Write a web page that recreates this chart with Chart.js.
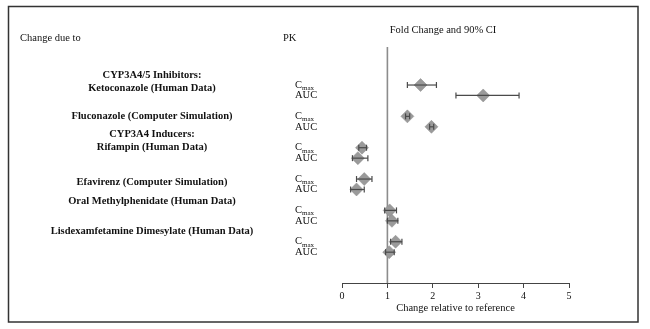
<!DOCTYPE html>
<html>
<head>
<meta charset="utf-8">
<script src="https://cdn.jsdelivr.net/npm/chart.js@4"></script>
<style>
  html, body { margin: 0; padding: 0; background: #fff; }
  #wrap { width: 650px; height: 329px; position: relative; }
</style>
</head>
<body>
<div id="wrap"><canvas id="c"></canvas></div>
<script>
// ---- data ----
const groupLabels = [
  ['CYP3A4/5 Inhibitors:', 'Ketoconazole (Human Data)'],
  ['Fluconazole (Computer Simulation)'],
  ['CYP3A4 Inducers:', 'Rifampin (Human Data)'],
  ['Efavirenz (Computer Simulation)'],
  ['Oral Methylphenidate (Human Data)'],
  ['Lisdexamfetamine Dimesylate (Human Data)']
];
const pkParams = ['Cmax', 'AUC'];
const cmaxRatio = [1.73, 1.44, 0.44, 0.49, 1.05, 1.18];
const cmaxLow   = [1.44, 1.40, 0.37, 0.32, 0.94, 1.07];
const cmaxHigh  = [2.08, 1.49, 0.54, 0.66, 1.20, 1.32];
const aucRatio  = [3.11, 1.97, 0.35, 0.32, 1.10, 1.04];
const aucLow    = [2.51, 1.93, 0.23, 0.19, 1.00, 0.96];
const aucHigh   = [3.90, 2.02, 0.57, 0.49, 1.23, 1.15];
const xTicks = [0, 1, 2, 3, 4, 5];
const referenceValue = 1;

// ---- build rows ----
const rows = [];
groupLabels.forEach((g, i) => {
  rows.push({ y: i * 3,     est: cmaxRatio[i], lo: cmaxLow[i], hi: cmaxHigh[i], pk: 0, g: i });
  rows.push({ y: i * 3 + 1, est: aucRatio[i],  lo: aucLow[i],  hi: aucHigh[i],  pk: 1, g: i });
});
const Y_MIN = -3.64, Y_MAX = 18.95;

const SERIF = '"Liberation Serif", "DejaVu Serif", serif';
const labelShift = [3, 0, 0, 3, -9, -10];

const datasets = [];
// reference line at 1
datasets.push({
  type: 'line', data: [{ x: referenceValue, y: Y_MIN }, { x: referenceValue, y: Y_MAX }],
  borderColor: '#8c8c8c', borderWidth: 1.6, pointRadius: 0, order: 3
});
// diamonds
datasets.push({
  type: 'scatter', data: rows.map(r => ({ x: r.est, y: r.y })),
  pointStyle: 'rectRot', pointRadius: 6.5, backgroundColor: '#9a9a9a', borderColor: '#8a8a8a',
  borderWidth: 0.5, order: 2
});
// error bars
rows.forEach(r => {
  datasets.push({
    type: 'line', data: [{ x: r.lo, y: r.y }, { x: r.hi, y: r.y }],
    borderColor: '#4a4a4a', borderWidth: 1.2, pointStyle: 'line', rotation: 90,
    pointRadius: 3, pointBorderColor: '#4a4a4a', pointBorderWidth: 1.2, order: 1
  });
});

const textPlugin = {
  id: 'texts',
  afterDraw(chart) {
    const ctx = chart.ctx;
    const ys = chart.scales.y;
    ctx.save();
    // frame
    ctx.strokeStyle = '#333';
    ctx.lineWidth = 1.5;
    ctx.strokeRect(8.5, 6.5, 629.5, 315.5);
    ctx.fillStyle = '#111';
    ctx.textBaseline = 'middle';
    // headers
    ctx.font = '10.5px ' + SERIF;
    ctx.textAlign = 'left';
    ctx.fillText('Change due to', 20, 38);
    ctx.fillText('PK', 283, 38);
    ctx.textAlign = 'center';
    ctx.fillText('Fold Change and 90% CI', 443, 30);
    // group labels
    ctx.font = 'bold 10.5px ' + SERIF;
    groupLabels.forEach((lines, i) => {
      const base = ys.getPixelForValue(i * 3) + labelShift[i];
      lines.forEach((t, k) => {
        ctx.fillText(t, 152, base - (lines.length - 1 - k) * 13);
      });
    });
    // PK labels
    ctx.textAlign = 'left';
    rows.forEach(r => {
      const y = ys.getPixelForValue(r.y);
      const name = pkParams[r.pk];
      if (name === 'Cmax') {
        ctx.font = '10.5px ' + SERIF;
        ctx.fillText('C', 295, y);
        const w = ctx.measureText('C').width;
        ctx.font = '7px ' + SERIF;
        ctx.fillText('max', 295 + w, y + 3);
      } else {
        ctx.font = '10.5px ' + SERIF;
        ctx.fillText(name, 295, y);
      }
    });
    ctx.restore();
  }
};

new Chart(document.getElementById('c'), {
  type: 'scatter',
  data: { datasets },
  options: {
    responsive: true, maintainAspectRatio: false, animation: false,
    layout: { padding: { left: 342, right: 81, top: 47, bottom: 14 } },
    plugins: { legend: { display: false }, tooltip: { enabled: false } },
    scales: {
      x: {
        type: 'linear', min: 0, max: 5,
        afterBuildTicks(s) { s.ticks = xTicks.map(v => ({ value: v })); },
        afterFit(s) { s.height = 32; },
        ticks: { color: '#111', font: { family: SERIF, size: 10 }, padding: 2 },
        grid: { drawOnChartArea: false, drawTicks: true, tickLength: 5, color: '#444', lineWidth: 1 },
        border: { color: '#444', width: 1 },
        title: { display: true, text: 'Change relative to reference', color: '#111',
                 font: { family: SERIF, size: 10.5 }, padding: { top: 0, bottom: 0 } }
      },
      y: {
        type: 'linear', reverse: true, min: Y_MIN, max: Y_MAX, display: false
      }
    }
  },
  plugins: [textPlugin]
});
</script>
</body>
</html>
